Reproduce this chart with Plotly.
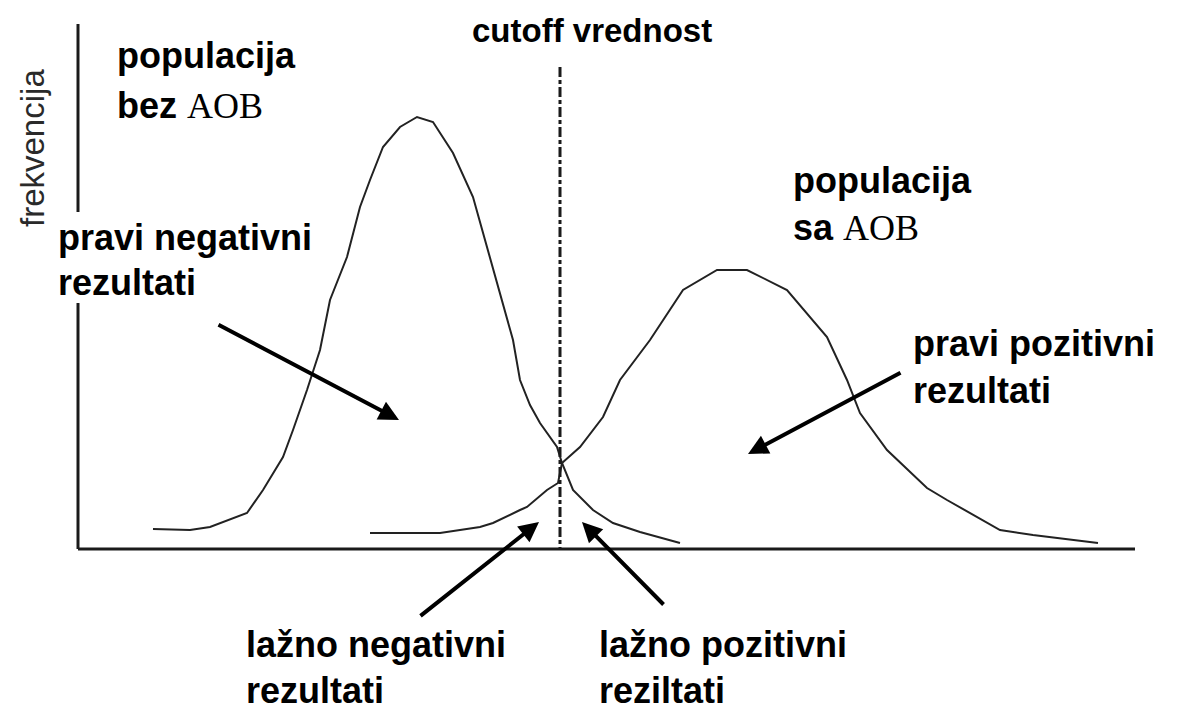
import plotly.graph_objects as go

# baseline of the diagram sits at pixel row 549; heights are measured up from it
BASE = 549

# population without the disease (left bell curve)
neg_x = [153, 190, 210, 247, 263, 283, 293, 307, 320, 330, 347, 360, 370, 383, 400, 417,
         433, 453, 473, 487, 500, 513, 520, 530, 540, 557, 562, 573, 593, 613, 640, 680]
neg_y = [20, 19, 22, 36, 59, 92, 119, 159, 199, 249, 292, 342, 369, 402, 422, 432,
         427, 396, 352, 302, 256, 209, 169, 144, 126, 102, 86, 59, 39, 26, 17, 6]

# population with the disease (right bell curve)
pos_x = [370, 440, 480, 493, 520, 527, 547, 558, 562, 580, 603, 620, 650, 683, 717, 747,
         787, 827, 847, 860, 887, 927, 947, 1000, 1033, 1098]
pos_y = [16, 16, 22, 26, 39, 42, 59, 66, 86, 102, 132, 169, 209, 259, 279, 279,
         259, 212, 169, 136, 99, 61, 49, 19, 14, 6]

cutoff_x = 560

SANS = "Liberation Sans, Arial, sans-serif"
INK = "#1a1a1a"

# the page body has an 8px margin, so the figure is a bit smaller than the window
PAD = 8
W, H = 1179, 721


def py(v):
    """pixel row -> height above baseline"""
    return BASE - v


def serif(t):
    return f"<span style=\"font-family:'Liberation Serif';font-weight:normal\">{t}</span>"


fig = go.Figure()

for xs, ys in [(neg_x, neg_y), (pos_x, pos_y)]:
    fig.add_trace(go.Scatter(
        x=xs, y=ys, mode="lines",
        line=dict(color="#222222", width=2),
        hoverinfo="skip", showlegend=False,
    ))

# axes drawn by hand (the y axis is broken by the label text)
fig.add_shape(type="line", x0=78, x1=1135, y0=0, y1=0, xref="x", yref="y",
              line=dict(color=INK, width=3))
fig.add_shape(type="line", x0=78, x1=78, y0=py(24), y1=py(212), xref="x", yref="y",
              line=dict(color=INK, width=3))
fig.add_shape(type="line", x0=78, x1=78, y0=py(303), y1=0, xref="x", yref="y",
              line=dict(color=INK, width=3))

# cutoff line
fig.add_shape(type="line", x0=cutoff_x, x1=cutoff_x, y0=py(67), y1=0, xref="x", yref="y",
              line=dict(color=INK, width=3, dash="10px,3px,4px,3px"))

# text labels: (text, left x, baseline row)
SIZE = 36
labels = [
    ("populacija", 115, 68),
    ("bez " + serif("AOB"), 115, 118),
    ("pravi negativni", 56, 250),
    ("rezultati", 56, 295),
    ("populacija", 791, 193),
    ("sa " + serif("AOB"), 791, 240),
    ("pravi pozitivni", 911, 356),
    ("rezultati", 911, 403),
    ("lažno negativni", 244, 657),
    ("rezultati", 244, 703),
    ("lažno pozitivni", 597, 657),
    ("reziltati", 597, 703),
]
for text, x, base in labels:
    fig.add_annotation(
        x=x, y=py(base - 0.35 * SIZE), xref="x", yref="y",
        text=text, showarrow=False, xanchor="left", yanchor="middle",
        font=dict(family=SANS, size=SIZE, color="black", weight="bold"),
    )

fig.add_annotation(
    x=592, y=py(42 - 0.35 * 33), xref="x", yref="y",
    text="cutoff vrednost", showarrow=False, xanchor="center", yanchor="middle",
    font=dict(family=SANS, size=33, color="black", weight="bold"),
)

fig.add_annotation(
    x=32, y=py(148), xref="x", yref="y",
    text="frekvencija", showarrow=False, textangle=-90,
    xanchor="center", yanchor="middle",
    font=dict(family=SANS, size=33, color="#2a2a2a"),
)

# arrows: (tail x, tail row, tip x, tip row)
arrows = [
    (217, 324, 399, 420),
    (902, 372, 748, 454),
    (419, 617, 539, 522),
    (665, 606, 582, 522),
]
for x0, y0, x1, y1 in arrows:
    fig.add_annotation(
        x=x1, y=py(y1), ax=x0, ay=py(y0),
        xref="x", yref="y", axref="x", ayref="y",
        text="", showarrow=True, arrowhead=2, arrowsize=1,
        arrowwidth=4, arrowcolor="black", standoff=0,
    )

fig.update_layout(
    width=W - 2 * PAD, height=H - 2 * PAD,
    margin=dict(l=0, r=0, t=0, b=0),
    paper_bgcolor="white", plot_bgcolor="white",
    showlegend=False,
    xaxis=dict(range=[PAD, W - PAD], visible=False, fixedrange=True),
    yaxis=dict(range=[py(H - PAD), py(PAD)], visible=False, fixedrange=True),
)

fig.write_html("out.html")
